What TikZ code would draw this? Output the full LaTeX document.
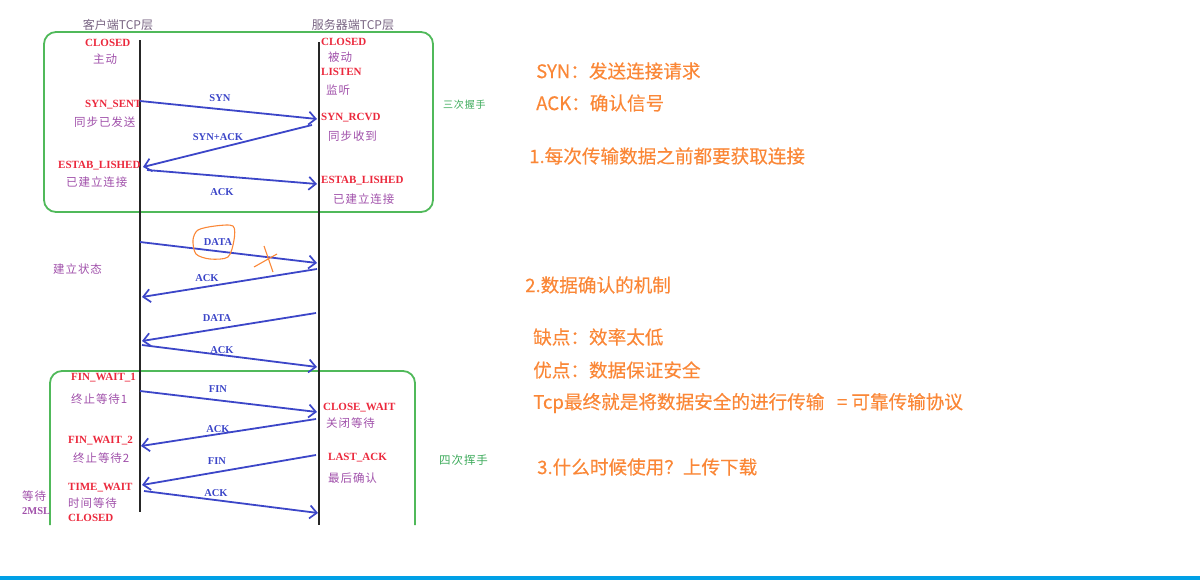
\documentclass[tikz,border=0pt]{standalone}
\usepackage{fontspec}
\setmainfont{Liberation Serif}
\newfontfamily\cjk{Noto Sans CJK SC}
\newfontfamily\cjknote[FakeBold=0.3]{Noto Sans CJK SC}
\newfontfamily\cjkd[LetterSpace=8]{Noto Sans CJK SC}
\usetikzlibrary{arrows.meta}
\definecolor{lblred}{RGB}{235,40,60}
\definecolor{lblpur}{RGB}{160,80,170}
\definecolor{arrblue}{RGB}{60,70,200}
\definecolor{boxgreen}{RGB}{80,185,90}
\definecolor{txtgreen}{RGB}{60,170,90}
\definecolor{notec}{RGB}{250,135,55}
\definecolor{hdr}{RGB}{120,100,130}
\definecolor{rulec}{RGB}{0,160,230}
\tikzset{
 st/.style={anchor=west, inner sep=0pt, text=lblred, font=\bfseries\fontsize{11}{11}\selectfont},
 cn/.style={anchor=west, inner sep=0pt, text=lblpur, font=\cjkd\fontsize{11.5}{11.5}\selectfont},
 msg/.style={inner sep=0pt, text=arrblue, font=\bfseries\fontsize{10.5}{10.5}\selectfont},
 arr/.style={draw=arrblue, line width=1.8pt, -{Straight Barb[length=7pt,width=13pt,line width=1.7pt]}},
 life/.style={draw=black!85, line width=2.2pt},
 hand/.style={draw=boxgreen, line width=1.8pt, rounded corners=12pt},
 notetxt/.style={anchor=west, inner sep=0pt, text=notec, font=\cjknote\fontsize{18.6}{18.6}\selectfont},
 grn/.style={anchor=west, inner sep=0pt, text=txtgreen, font=\cjkd\fontsize{10}{10}\selectfont},
 hdrtxt/.style={inner sep=0pt, text=hdr, font=\cjk\fontsize{12}{12}\selectfont},
 scrib/.style={draw=notec, line width=1.1pt}
}
\begin{document}
\begin{tikzpicture}[x=1pt,y=-1pt]
\useasboundingbox (0,0) rectangle (1200,584);

% boxes
\coordinate (b1a) at (44,32); \coordinate (b1b) at (433,212);
\draw[hand] (b1a) rectangle (b1b);
\coordinate (b2l) at (50,525); \coordinate (b2tl) at (50,371);
\coordinate (b2tr) at (415,371); \coordinate (b2r) at (415,525);
\draw[hand] (b2l) -- (b2tl) -- (b2tr) -- (b2r);

% lifelines
\coordinate (cTop) at (140,40); \coordinate (cBot) at (140,512);
\coordinate (sTop) at (319,42); \coordinate (sBot) at (319,525);
\draw[life] (cTop) -- (cBot);
\draw[life] (sTop) -- (sBot);

% headers
\node[hdrtxt] (hc) at (118,25) {客户端TCP层};
\node[hdrtxt] (hs) at (353,25) {服务器端TCP层};

% client states
\node[st] (cClosed) at (85,43) {CLOSED};
\node[cn] (cZd) at (93,59) {主动};
\node[st] (cSent) at (85,105) {SYN\_SENT};
\node[cn] (cSentc) at (74,122) {同步已发送};
\node[st] (cEst) at (58,166) {ESTAB\_LISHED};
\node[cn] (cEstc) at (66,182) {已建立连接};

% server states
\node[st] (sClosed) at (321,42) {CLOSED};
\node[cn] (sBd) at (328,57) {被动};
\node[st] (sListen) at (321,72) {LISTEN};
\node[cn] (sJt) at (326,90) {监听};
\node[st] (sRcvd) at (321,118) {SYN\_RCVD};
\node[cn] (sRcvdc) at (328,136) {同步收到};
\node[st] (sEst) at (321,181) {ESTAB\_LISHED};
\node[cn] (sEstc) at (333,199) {已建立连接};

\node[grn] (three) at (443,105) {三次握手};

% handshake arrows
\coordinate (a1s) at (140,101); \coordinate (a1e) at (317,119);
\coordinate (a2s) at (312,125); \coordinate (a2e) at (143,167);
\coordinate (a3s) at (147,170); \coordinate (a3e) at (317,184);
\draw[arr] (a1s) -- (a1e);
\draw[arr] (a2s) -- (a2e);
\draw[arr] (a3s) -- (a3e);
\node[msg] (m1) at (220,98) {SYN};
\node[msg] (m2) at (218,137) {SYN+ACK};
\node[msg] (m3) at (222,192) {ACK};

% data phase
\node[cn] (est) at (53,269) {建立状态};
\coordinate (d1s) at (140,242); \coordinate (d1e) at (317,263);
\coordinate (d2s) at (317,269); \coordinate (d2e) at (142,297);
\coordinate (d3s) at (316,313); \coordinate (d3e) at (142,341);
\coordinate (d4s) at (142,345); \coordinate (d4e) at (317,367);
\draw[arr] (d1s) -- (d1e);
\draw[arr] (d2s) -- (d2e);
\draw[arr] (d3s) -- (d3e);
\draw[arr] (d4s) -- (d4e);
\node[msg] (n1) at (218,242) {DATA};
\node[msg] (n2) at (207,278) {ACK};
\node[msg] (n3) at (217,318) {DATA};
\node[msg] (n4) at (222,350) {ACK};

% orange scribbles
\draw[scrib] plot[smooth cycle] coordinates {(198,230) (215,226) (233,226) (234,240) (228,257) (210,259) (196,254) (193,240)};
\coordinate (x1a) at (254,267); \coordinate (x1b) at (277,254);
\coordinate (x2a) at (264,246); \coordinate (x2b) at (273,272);
\draw[scrib] (x1a) -- (x1b);
\draw[scrib] (x2a) -- (x2b);

% closing states
\node[st] (fw1) at (71,378) {FIN\_WAIT\_1};
\node[cn] (fw1c) at (71,399) {终止等待1};
\node[st] (fw2) at (68,441) {FIN\_WAIT\_2};
\node[cn] (fw2c) at (73,458) {终止等待2};
\node[st] (tw) at (68,488) {TIME\_WAIT};
\node[cn] (twc) at (68,503) {时间等待};
\node[st] (cl2) at (68,518) {CLOSED};
\node[cn] (wt) at (22,496) {等待};
\node[anchor=west, inner sep=0pt, text=lblpur, font=\bfseries\fontsize{10.5}{10.5}\selectfont] (msl) at (22,511) {2MSL};
\node[st] (cw) at (323,408) {CLOSE\_WAIT};
\node[cn] (cwc) at (326,423) {关闭等待};
\node[st] (la) at (328,458) {LAST\_ACK};
\node[cn] (lac) at (328,478) {最后确认};
\node[grn, font=\cjkd\fontsize{11.5}{11.5}\selectfont] (four) at (439,460) {四次挥手};

\coordinate (f1s) at (140,391); \coordinate (f1e) at (317,412);
\coordinate (f2s) at (316,419); \coordinate (f2e) at (141,446);
\coordinate (f3s) at (316,455); \coordinate (f3e) at (142,485);
\coordinate (f4s) at (144,491); \coordinate (f4e) at (318,513);
\draw[arr] (f1s) -- (f1e);
\draw[arr] (f2s) -- (f2e);
\draw[arr] (f3s) -- (f3e);
\draw[arr] (f4s) -- (f4e);
\node[msg] (g1) at (218,389) {FIN};
\node[msg] (g2) at (218,429) {ACK};
\node[msg] (g3) at (217,461) {FIN};
\node[msg] (g4) at (216,493) {ACK};

% notes
\node[notetxt] (t1) at (536,71) {SYN：发送连接请求};
\node[notetxt] (t2) at (536,103) {ACK：确认信号};
\node[notetxt] (t3) at (529,156) {1.每次传输数据之前都要获取连接};
\node[notetxt] (t4) at (525,285) {2.数据确认的机制};
\node[notetxt] (t5) at (533,337) {缺点：效率太低};
\node[notetxt] (t6) at (533,370) {优点：数据保证安全};
\node[notetxt] (t7) at (533,403) {Tcp最终就是将数据安全的进行传输\ \ \ = 可靠传输协议};
\node[notetxt] (t8) at (537,467) {3.什么时候使用？上传下载};

% bottom rule
\coordinate (r1) at (0,576); \coordinate (r2) at (1200,580);
\fill[rulec] (r1) rectangle (r2);
\end{tikzpicture}
\end{document}
